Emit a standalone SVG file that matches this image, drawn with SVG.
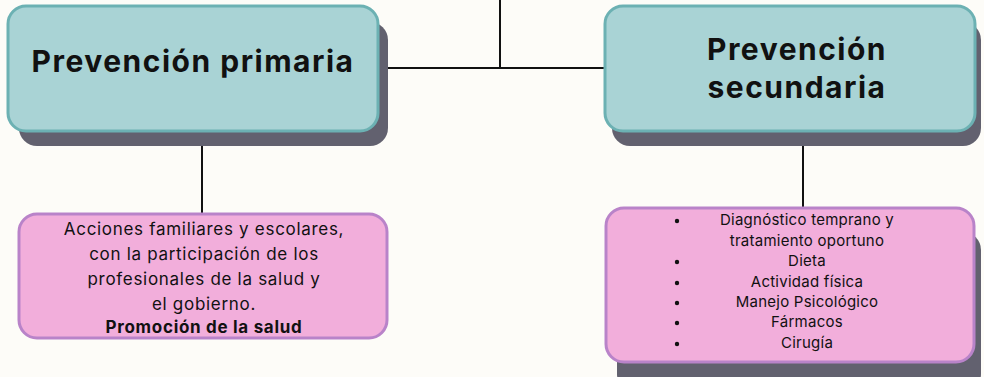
<svg xmlns="http://www.w3.org/2000/svg" width="984" height="377" viewBox="0 0 984 377">
<style>
.shadow{fill:#62616f}
.teal{fill:#a9d3d5;stroke:#6cb1b3;stroke-width:3}
.pink{fill:#f2aedb;stroke:#b983c9;stroke-width:3}
.title{font-family:Inter,"Liberation Sans",sans-serif;font-weight:700;font-size:30px;letter-spacing:1.5px;fill:#111;text-anchor:middle}
.body{font-family:Inter,"Liberation Sans",sans-serif;font-size:17px;letter-spacing:0.7px;fill:#111;text-anchor:middle}
.list{font-family:Inter,"Liberation Sans",sans-serif;font-size:15px;letter-spacing:0.25px;fill:#111;text-anchor:middle}
.conn{stroke:#111;stroke-width:2;fill:none}
</style>
<rect width="984" height="377" fill="#fdfcf8"/>
<g id="connectors">
<line class="conn" x1="500" y1="0" x2="500" y2="68"/>
<line class="conn" x1="388" y1="68" x2="605" y2="68"/>
<line class="conn" x1="202" y1="146" x2="202" y2="213"/>
<line class="conn" x1="803" y1="146" x2="803" y2="207"/>
</g>
<g id="prevencion-primaria">
<rect class="shadow" x="19" y="22" width="369" height="124" rx="18"/>
<rect class="teal" x="8" y="6" width="370" height="125" rx="18"/>
<text class="title" x="193" y="72">Prevención primaria</text>
</g>
<g id="prevencion-secundaria">
<rect class="shadow" x="612" y="22" width="369" height="124" rx="18"/>
<rect class="teal" x="605" y="6" width="370" height="125" rx="18"/>
<text class="title" x="797" y="60">Prevención</text>
<text class="title" x="797" y="98">secundaria</text>
</g>
<g id="acciones">
<rect class="pink" x="19" y="214" width="368" height="124" rx="18"/>
<text class="body" x="204" y="235">Acciones familiares y escolares,</text>
<text class="body" x="204" y="260">con la participación de los</text>
<text class="body" x="204" y="285">profesionales de la salud y</text>
<text class="body" x="204" y="310">el gobierno.</text>
<text class="body" x="204" y="333" font-weight="700" letter-spacing="0.3">Promoción de la salud</text>
</g>
<g id="tratamiento">
<rect class="shadow" x="617" y="232" width="364" height="160" rx="18"/>
<rect class="pink" x="606" y="208" width="368" height="154" rx="18"/>
<g class="list">
<text x="807" y="225">Diagnóstico temprano y</text>
<text x="807" y="246">tratamiento oportuno</text>
<text x="807" y="266">Dieta</text>
<text x="807" y="287">Actividad física</text>
<text x="807" y="307">Manejo Psicológico</text>
<text x="807" y="327">Fármacos</text>
<text x="807" y="348">Cirugía</text>
</g>
<g fill="#111">
<circle cx="677" cy="221" r="2.2"/>
<circle cx="677" cy="262" r="2.2"/>
<circle cx="677" cy="283" r="2.2"/>
<circle cx="677" cy="303" r="2.2"/>
<circle cx="677" cy="323" r="2.2"/>
<circle cx="677" cy="344" r="2.2"/>
</g>
</g>
</svg>
